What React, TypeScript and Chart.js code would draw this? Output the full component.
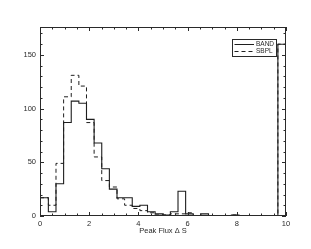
import React, { useEffect, useRef } from "react";
import { Chart, registerables } from "chart.js";

Chart.register(...registerables);

// Histogram bin edges (Peak Flux ΔS)
const binEdges = [0, 0.34, 0.65, 0.96, 1.27, 1.58, 1.89, 2.2, 2.51, 2.82, 3.13, 3.44, 3.75, 4.06, 4.37, 4.68, 4.99, 5.3, 5.61, 5.92, 6.23, 6.54, 6.85, 7.16, 7.47, 7.78, 8.09, 8.4, 8.71, 9.02, 9.33, 9.67, 10];
// Counts per bin
const bandCounts = [17, 4, 30, 87, 107, 105, 90, 68, 44, 25, 17, 17, 9, 10, 4, 2, 1, 4, 23, 2, 0, 2, 0, 0, 0, 1, 0, 0, 0, 0, 0, 160];
const sbplCounts = [17, 10, 49, 111, 131, 121, 87, 55, 33, 27, 16, 10, 7, 5, 3, 1, 1, 2, 2, 3, 0, 0, 0, 0, 0, 1, 0, 0, 0, 0, 0, 160];
const seriesLabels = ["BAND", "SBPL"];
const xTickValues = [0, 2, 4, 6, 8, 10];
const yTickValues = [0, 50, 100, 150];
const xMinorStep = 0.5;
const yMinorStep = 10;
const xMax = 10;
const yMax = 176;
const xTitle = "Peak Flux \u0394 S";

const FONT = "'Liberation Sans', Arial, Helvetica, sans-serif";
const INK = "#2a2a2a";

function toSteps(counts: number[]) {
  return binEdges.map((e, i) => ({ x: e, y: counts[Math.min(i, counts.length - 1)] }));
}

const framePlugin = {
  id: "frame",
  afterDraw(chart: any) {
    const { ctx, chartArea } = chart;
    const { left, right, top, bottom } = chartArea;
    const xs = chart.scales.x;
    const ys = chart.scales.y;
    ctx.save();
    ctx.strokeStyle = INK;
    ctx.lineWidth = 1;
    ctx.strokeRect(left + 0.5, top + 0.5, right - left - 1, bottom - top - 1);
    ctx.beginPath();
    // x ticks (bottom and top, inward)
    for (let v = 0; v <= xMax + 1e-9; v += xMinorStep) {
      const major = xTickValues.some((t) => Math.abs(t - v) < 1e-6);
      const len = major ? 4 : 2.5;
      const px = Math.round(xs.getPixelForValue(v)) + 0.5;
      ctx.moveTo(px, bottom);
      ctx.lineTo(px, bottom - len);
      ctx.moveTo(px, top);
      ctx.lineTo(px, top + len);
    }
    // y ticks (left and right, inward)
    for (let v = 0; v <= yMax + 1e-9; v += yMinorStep) {
      const major = v % 50 === 0;
      const len = major ? 4 : 2.5;
      const py = Math.round(ys.getPixelForValue(v)) + 0.5;
      ctx.moveTo(left, py);
      ctx.lineTo(left + len, py);
      ctx.moveTo(right, py);
      ctx.lineTo(right - len, py);
    }
    ctx.stroke();

    // legend box
    const bx = right - 54;
    const by = top + 11.5;
    const bw = 44;
    const bh = 17;
    ctx.fillStyle = "#fff";
    ctx.fillRect(bx, by, bw, bh);
    ctx.strokeRect(Math.round(bx) + 0.5, Math.round(by) + 0.5, bw, bh);
    ctx.font = `6.5px ${FONT}`;
    ctx.textBaseline = "middle";
    ctx.textAlign = "left";
    chart.data.datasets.forEach((ds: any, i: number) => {
      const ry = Math.round(by + 5 + i * 7) + 0.5;
      ctx.beginPath();
      ctx.setLineDash(ds.borderDash || []);
      ctx.lineWidth = 1;
      ctx.strokeStyle = ds.borderColor;
      ctx.moveTo(bx + 2.5, ry);
      ctx.lineTo(bx + 22, ry);
      ctx.stroke();
      ctx.setLineDash([]);
      ctx.fillStyle = INK;
      ctx.fillText(ds.label, bx + 24, ry);
    });
    ctx.restore();
  },
};

export default function App() {
  const ref = useRef<HTMLCanvasElement | null>(null);
  useEffect(() => {
    if (!ref.current) return;
    const chart = new Chart(ref.current, {
      type: "line",
      data: {
        datasets: [
          {
            label: seriesLabels[0],
            data: toSteps(bandCounts),
            stepped: "before",
            borderColor: "#1e1e1e",
            borderWidth: 1.1,
            pointRadius: 0,
            fill: false,
          },
          {
            label: seriesLabels[1],
            data: toSteps(sbplCounts),
            stepped: "before",
            borderColor: "#1e1e1e",
            borderWidth: 1,
            borderDash: [4, 3],
            pointRadius: 0,
            fill: false,
          },
        ],
      },
      options: {
        animation: false,
        responsive: true,
        maintainAspectRatio: false,
        layout: { padding: { top: 27, right: 25, left: 0, bottom: 0 } },
        plugins: { legend: { display: false }, tooltip: { enabled: false } },
        scales: {
          x: {
            type: "linear",
            min: 0,
            max: xMax,
            grid: { display: false, drawTicks: false },
            border: { display: false },
            afterBuildTicks: (s: any) => {
              s.ticks = xTickValues.map((v) => ({ value: v }));
            },
            afterFit: (s: any) => {
              s.height = 33;
            },
            ticks: {
              autoSkip: false,
              maxRotation: 0,
              padding: 3,
              color: INK,
              font: { family: FONT, size: 7.5 },
            },
            title: {
              display: true,
              text: xTitle,
              color: INK,
              font: { family: FONT, size: 7.5 },
              padding: { top: 0, bottom: 14 },
            },
          },
          y: {
            type: "linear",
            min: 0,
            max: yMax,
            grid: { display: false, drawTicks: false },
            border: { display: false },
            afterBuildTicks: (s: any) => {
              s.ticks = yTickValues.map((v) => ({ value: v }));
            },
            afterFit: (s: any) => {
              s.width = 40;
            },
            ticks: {
              autoSkip: false,
              padding: 4,
              color: INK,
              font: { family: FONT, size: 7.5 },
            },
          },
        },
      },
      plugins: [framePlugin],
    });
    return () => chart.destroy();
  }, []);
  return (
    <div style={{ position: "absolute", left: 0, top: 0, width: 311, height: 249, background: "#fff" }}>
      <canvas ref={ref} />
    </div>
  );
}
